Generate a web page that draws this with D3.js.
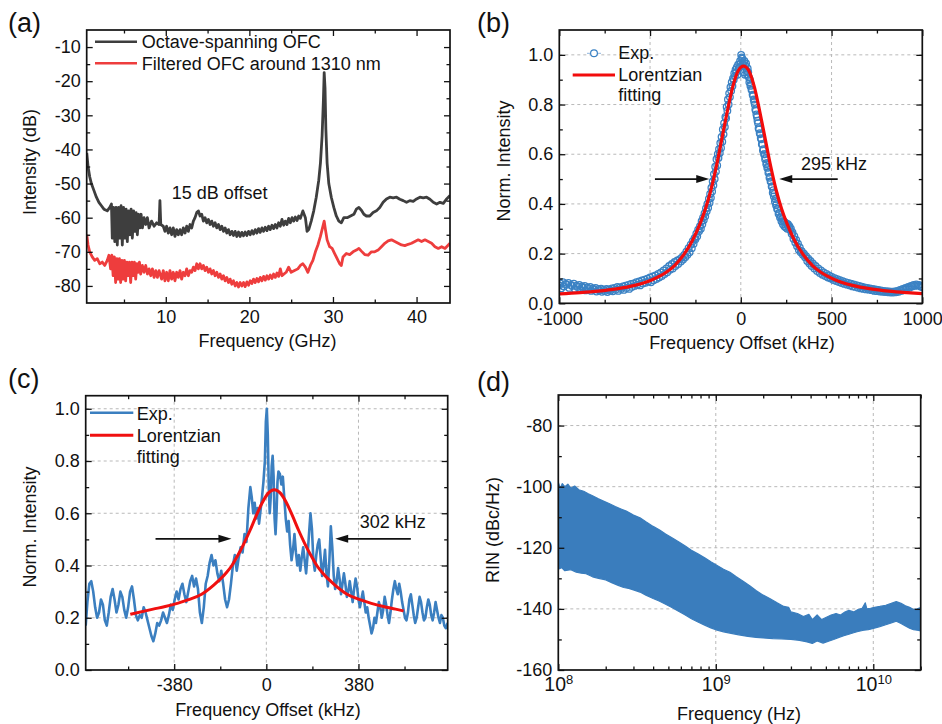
<!DOCTYPE html>
<html><head><meta charset="utf-8">
<script src="https://cdn.jsdelivr.net/npm/d3@7"></script>
<style>
body{margin:0;background:#fff;}
</style></head><body>
<script>
// ---------------- DATA ----------------
// (a) RF spectra [GHz, dB]
const aOctave = [[0.55,-41],[0.7,-45],[0.9,-48],[1.1,-50],[1.4,-52],[1.7,-54],[2.0,-55.5],[2.3,-56.5],[2.6,-57.5],[3.0,-58],[3.3,-57],
[3.5,-56],[3.6,-66],[3.75,-57],[3.9,-67],[4.05,-57],[4.2,-68],[4.35,-57],[4.5,-66],[4.65,-56.5],[4.8,-68],[4.95,-57],[5.1,-66],[5.25,-57.5],[5.4,-67],[5.55,-58],[5.7,-65],[5.85,-57.5],[6.0,-66],[6.15,-58],[6.3,-64],[6.45,-58.5],[6.6,-65],[6.75,-59],[6.9,-63],[7.05,-59],[7.2,-63],[7.4,-60],[7.6,-62],[7.8,-60],[8.0,-63],[8.3,-61],[8.6,-62.5],[8.9,-61.5],[9.2,-62],[9.3,-55],[9.4,-62],
[9.7,-62.5],[9.9,-64],[10.1,-62.5],[10.3,-64.5],[10.5,-63],[10.7,-65],[10.9,-63],[11.1,-65.5],[11.3,-63.5],[11.5,-65],[11.7,-63.5],[11.9,-65],[12.1,-63],[12.3,-64.5],[12.5,-62.5],[12.7,-64],[12.9,-62],[13.1,-63],[13.3,-61],[13.5,-60],[13.7,-58.5],[13.9,-58],[14.1,-59.5],[14.3,-59],[14.5,-61],[14.7,-60],[14.9,-61.5],[15.1,-60.5],[15.3,-62],[15.5,-61],[15.7,-62.5],[15.9,-61.5],[16.1,-63],[16.3,-62],[16.5,-63.5],[16.7,-62.5],[16.9,-64],[17.1,-63],[17.3,-64.5],[17.5,-63.5],[17.7,-65],[17.9,-64],[18.1,-65.2],[18.3,-64],[18.5,-65.5],[18.7,-64.2],[18.9,-65.5],[19.1,-64.3],[19.3,-65.3],[19.5,-64.2],[19.7,-65.2],[19.9,-64],[20.1,-65],[20.3,-63.8],[20.5,-64.8],[20.7,-63.5],[20.9,-64.5],[21.1,-63.2],[21.3,-64.3],[21.5,-63],[21.7,-64],[21.9,-62.8],[22.1,-63.8],[22.3,-62.5],[22.5,-63.5],[22.7,-62.2],[22.9,-63.2],[23.1,-62],[23.3,-63],[23.5,-61.5],[23.7,-62.5],[23.9,-60.5],[24.1,-62.2],[24.3,-61],[24.5,-62],[24.7,-60.2],[24.9,-61.5],[25.1,-60],[25.3,-61],[25.5,-59.8],[25.7,-60.8],[25.9,-59.5],[26.1,-60.2],[26.4,-58],
[26.7,-60],[26.9,-64],[27.1,-63.5],[27.4,-61],[27.7,-58],[28.0,-54],[28.3,-49],[28.5,-44],[28.7,-36],[28.85,-26],[28.95,-17.5],[29.05,-22],[29.15,-34],[29.3,-44],[29.5,-50],[29.8,-54],[30.1,-57],[30.4,-59.5],[30.7,-61],[31.0,-61.5],[31.3,-60],[31.7,-60],[32.1,-59.5],[32.5,-59],[32.8,-57.5],[33.1,-57],[33.4,-57.8],[33.7,-59],[34.0,-59.5],[34.4,-59.5],[34.8,-58.5],[35.2,-58],[35.6,-57],[36,-55.5],[36.4,-54.5],[36.8,-54],[37.2,-54.2],[37.6,-54],[38,-54.6],[38.4,-55],[38.8,-55.5],[39.2,-55],[39.6,-55.2],[40,-54.5],[40.4,-54],[40.8,-54.2],[41.2,-54],[41.6,-54.6],[42,-55.5],[42.4,-56],[42.8,-55.5],[43.2,-55.8],[43.6,-54.5],[44,-53.5]];
const aFiltered = [[0.55,-65],[0.7,-68],[0.9,-70],[1.2,-71.5],[1.5,-72.5],[1.8,-72],[2.1,-73.5],[2.4,-73],[2.7,-74],[3.0,-72.5],[3.2,-71],[3.4,-75],[3.55,-71],[3.7,-77],[3.85,-71.5],[4.0,-79],[4.15,-72],[4.3,-78],[4.45,-72],[4.6,-79],[4.75,-72.5],[4.9,-78],[5.05,-72.5],[5.2,-78.5],[5.35,-73],[5.5,-77],[5.65,-73],[5.8,-79],[5.95,-73],[6.1,-77],[6.25,-73],[6.4,-78],[6.55,-73.5],[6.7,-76],[6.85,-73],[7.0,-76.5],[7.2,-74],[7.4,-76],[7.6,-74],[7.8,-76.5],[8.0,-75],[8.2,-77],[8.4,-75],[8.6,-77.5],[8.8,-75.5],[9.0,-77.5],[9.2,-75.5],
[9.5,-78],[9.7,-75.5],[9.9,-78.5],[10.1,-76],[10.3,-78.5],[10.5,-75.5],[10.7,-78],[10.9,-76],[11.1,-78.5],[11.3,-76],[11.5,-77.5],[11.7,-75.5],[11.9,-78],[12.1,-76],[12.3,-77],[12.5,-75],[12.7,-77],[12.9,-75.5],[13.1,-76],[13.3,-74.5],[13.5,-75.5],[13.7,-73.5],[13.9,-75],[14.1,-73.5],[14.3,-75],[14.5,-74],[14.7,-75.5],[14.9,-74.5],[15.1,-76],[15.3,-75],[15.5,-76.5],[15.7,-75.5],[15.9,-77],[16.1,-76],[16.3,-77.5],[16.5,-76.5],[16.7,-78],[16.9,-77],[17.1,-78.5],[17.3,-77.5],[17.5,-79],[17.7,-78],[17.9,-79.5],[18.1,-78.5],[18.3,-80],[18.5,-79],[18.7,-80.3],[18.9,-79],[19.1,-80],[19.3,-79],[19.5,-80.2],[19.7,-78.8],[19.9,-79.8],[20.1,-78.5],[20.3,-79.3],[20.5,-78],[20.7,-79],[20.9,-77.8],[21.1,-78.8],[21.3,-77.5],[21.5,-78.5],[21.7,-77.2],[21.9,-78.3],[22.1,-77],[22.3,-78],[22.5,-76.8],[22.7,-77.8],[22.9,-76.5],[23.1,-77.5],[23.3,-76.2],[23.5,-77.2],[23.7,-75],[23.9,-77],
[24.4,-76],[24.7,-74.5],[25,-76],[25.4,-75.5],[25.8,-75],[26.1,-74],[26.4,-73.5],[26.7,-74.5],[27,-76],[27.3,-74],[27.6,-72.5],[27.9,-70],[28.2,-68],[28.5,-65.5],[28.75,-63],[28.95,-61],[29.1,-63.5],[29.3,-66.5],[29.6,-68.5],[29.9,-69],[30.2,-70.5],[30.5,-72],[30.8,-73.5],[31.0,-74],[31.2,-71.5],[31.6,-70.5],[32,-70.8],[32.4,-70],[32.8,-69.5],[33.1,-69],[33.4,-69.8],[33.8,-70.8],[34.2,-71],[34.6,-70],[35,-70],[35.4,-69.5],[35.8,-68.5],[36.2,-67.5],[36.6,-66.8],[37,-66.5],[37.4,-67],[37.8,-67.5],[38.2,-68],[38.6,-68.2],[39,-67.8],[39.4,-67.5],[39.8,-67],[40.2,-66.5],[40.6,-67],[41,-66.5],[41.4,-67],[41.8,-67.5],[42.2,-68.5],[42.6,-69],[43,-68.5],[43.4,-69],[43.8,-68],[44,-67.5]];
const aXTicks = [10,20,30,40], aXMinor = [5,15,25,35];
const aYTicks = [-80,-70,-60,-50,-40,-30,-20,-10], aYMinor = [-75,-65,-55,-45,-35,-25,-15];
const aLegend = ["Octave-spanning OFC","Filtered OFC around 1310 nm"];

// (b) beat note [kHz, norm] - two passes of measured points
const bExp = [[-1000,0.072],[-990,0.060],[-975,0.068],[-960,0.075],[-945,0.062],[-930,0.070],[-915,0.058],[-900,0.066],[-885,0.055],[-870,0.063],[-855,0.052],[-840,0.058],[-825,0.050],[-810,0.055],[-795,0.047],[-780,0.052],[-765,0.046],[-750,0.050],[-735,0.045],[-720,0.051],[-705,0.048],[-690,0.055],[-675,0.050],[-660,0.058],[-645,0.054],[-630,0.062],[-615,0.058],[-600,0.066],[-585,0.070],[-570,0.075],[-555,0.072],[-540,0.080],[-525,0.083],[-510,0.088],[-495,0.085],[-480,0.093],[-465,0.098],[-450,0.104],[-435,0.110],[-420,0.118],[-405,0.125],[-390,0.135],[-375,0.140],[-360,0.150],[-345,0.158],[-330,0.168],[-318,0.176],[-306,0.185],[-294,0.195],[-282,0.205],[-270,0.222],[-260,0.240],[-250,0.258],[-240,0.270],[-230,0.290],[-220,0.300],[-212,0.318],[-204,0.335],[-196,0.350],[-188,0.370],[-180,0.385],[-172,0.405],[-165,0.425],[-158,0.450],[-151,0.475],[-144,0.500],[-137,0.530],[-130,0.555],[-123,0.585],[-116,0.605],[-109,0.625],[-102,0.650],[-95,0.680],[-88,0.710],[-81,0.745],[-74,0.775],[-67,0.800],[-60,0.830],[-53,0.855],[-46,0.875],[-39,0.900],[-32,0.915],[-25,0.930],[-18,0.920],[-11,0.945],[-4,0.975],[2,1.0],[8,0.985],[14,0.960],[20,0.975],[26,0.955],[32,0.935],[38,0.945],[44,0.910],[50,0.900],[56,0.880],[62,0.860],[68,0.835],[74,0.810],[80,0.780],[86,0.760],[92,0.735],[98,0.705],[104,0.685],[110,0.665],[116,0.640],[122,0.615],[128,0.600],[134,0.580],[140,0.560],[146,0.545],[152,0.525],[158,0.505],[164,0.490],[170,0.470],[176,0.445],[182,0.430],[188,0.410],[194,0.395],[200,0.380],[208,0.360],[216,0.345],[224,0.330],[232,0.318],[240,0.310],[248,0.305],[256,0.300],[264,0.305],[272,0.295],[280,0.280],[290,0.260],[300,0.245],[310,0.230],[320,0.215],[330,0.205],[342,0.195],[354,0.185],[366,0.170],[378,0.160],[390,0.150],[405,0.140],[420,0.130],[435,0.122],[450,0.115],[465,0.110],[480,0.104],[495,0.100],[510,0.094],[525,0.090],[540,0.086],[555,0.082],[570,0.078],[585,0.075],[600,0.072],[615,0.068],[630,0.066],[645,0.063],[660,0.060],[675,0.058],[690,0.056],[705,0.055],[720,0.053],[735,0.050],[750,0.049],[765,0.047],[780,0.046],[795,0.045],[810,0.044],[825,0.043],[840,0.043],[855,0.044],[870,0.046],[885,0.050],[900,0.055],[915,0.060],[930,0.063],[945,0.068],[960,0.070],[975,0.072],[990,0.068],[1000,0.065]];
const bExp2 = [[-995,0.080],[-980,0.085],[-965,0.078],[-950,0.082],[-935,0.074],[-920,0.079],[-905,0.071],[-890,0.074],[-875,0.068],[-860,0.070],[-845,0.064],[-830,0.066],[-815,0.060],[-800,0.062],[-785,0.057],[-770,0.059],[-755,0.055],[-740,0.058],[-725,0.056],[-710,0.060],[-695,0.062],[-680,0.066],[-665,0.064],[-650,0.068],[-635,0.071],[-620,0.074],[-605,0.078],[-590,0.080],[-575,0.085],[-560,0.088],[-545,0.092],[-530,0.095],[-515,0.099],[-500,0.104],[-485,0.108],[-470,0.112],[-455,0.118],[-440,0.124],[-425,0.132],[-410,0.140],[-395,0.150],[-380,0.158],[-365,0.166],[-350,0.172],[-336,0.178],[-324,0.185],[-312,0.195],[-300,0.208],[-288,0.222],[-276,0.236],[-265,0.25],[-255,0.262],[-245,0.28],[-235,0.296],[-225,0.31],[-216,0.33],[-208,0.345],[-200,0.362],[-192,0.382],[-184,0.40],[-176,0.42],[-169,0.44],[-162,0.465],[-155,0.49],[-148,0.52],[-141,0.55],[-134,0.58],[-127,0.60],[-120,0.62],[-113,0.645],[-106,0.67],[-99,0.70],[-92,0.725],[-85,0.75],[-78,0.79],[-71,0.82],[-64,0.845],[-57,0.87],[-50,0.89],[-43,0.905],[-36,0.925],[-29,0.94],[-22,0.95],[-15,0.96],[-8,0.95],[-1,0.965],[5,0.99],[11,0.97],[17,0.93],[23,0.92],[29,0.965],[35,0.92],[41,0.93],[47,0.89],[53,0.875],[59,0.86],[65,0.84],[71,0.82],[77,0.80],[83,0.775],[89,0.75],[95,0.725],[101,0.70],[107,0.68],[113,0.66],[119,0.64],[125,0.62],[131,0.60],[137,0.585],[143,0.565],[149,0.55],[155,0.53],[161,0.51],[167,0.49],[173,0.47],[179,0.455],[185,0.44],[191,0.42],[197,0.40],[204,0.38],[212,0.365],[220,0.35],[228,0.34],[236,0.33],[244,0.325],[252,0.32],[260,0.318],[268,0.31],[276,0.30],[285,0.285],[295,0.27],[305,0.255],[315,0.24],[325,0.225],[336,0.21],[348,0.20],[360,0.19],[372,0.18],[384,0.17],[397,0.16],[412,0.15],[427,0.14],[442,0.132],[457,0.124],[472,0.118],[487,0.112],[502,0.106],[517,0.101],[532,0.097],[547,0.093],[562,0.089],[577,0.085],[592,0.082],[607,0.079],[622,0.076],[637,0.073],[652,0.070],[667,0.067],[682,0.064],[697,0.062],[712,0.060],[727,0.058],[742,0.056],[757,0.054],[772,0.052],[787,0.050],[802,0.049],[817,0.048],[832,0.047],[847,0.048],[862,0.050],[877,0.054],[892,0.058],[907,0.062],[922,0.066],[937,0.070],[952,0.074],[967,0.076],[982,0.074],[997,0.070]];
const bFit = [[-1000,0.038],[-885,0.043],[-785,0.049],[-685,0.058],[-585,0.072],[-485,0.096],[-415,0.123],[-365,0.152],[-315,0.195],[-265,0.255],[-225,0.32],[-195,0.38],[-165,0.455],[-135,0.55],[-105,0.66],[-75,0.77],[-45,0.87],[-15,0.935],[15,0.955],[45,0.935],[75,0.87],[105,0.77],[135,0.66],[165,0.55],[195,0.455],[225,0.38],[255,0.32],[295,0.255],[345,0.195],[395,0.152],[445,0.123],[515,0.096],[615,0.072],[715,0.058],[815,0.049],[915,0.043],[1000,0.039]];
const bXTicks = [-1000,-500,0,500,1000], bXMinor = [-750,-250,250,750];
const bYTicks = [0,0.2,0.4,0.6,0.8,1.0], bYMinor = [0.1,0.3,0.5,0.7,0.9];
const bArrows = [[-473,-174,0.5],[534,212,0.5]];
const bWidth = ["295 kHz", 332, 0.538];

// (c) beat note [kHz, norm]
const cExp = [[-745,0.17],[-738,0.26],[-730,0.33],[-722,0.34],[-714,0.30],[-706,0.24],[-698,0.20],[-690,0.22],[-682,0.27],[-674,0.25],[-666,0.19],[-658,0.17],[-650,0.22],[-642,0.28],[-634,0.31],[-626,0.27],[-618,0.22],[-610,0.25],[-602,0.30],[-594,0.28],[-586,0.23],[-578,0.20],[-570,0.24],[-562,0.30],[-554,0.32],[-546,0.27],[-538,0.21],[-530,0.19],[-522,0.21],[-514,0.20],[-506,0.24],[-498,0.22],[-490,0.19],[-482,0.16],[-474,0.13],[-466,0.11],[-458,0.14],[-450,0.18],[-442,0.17],[-434,0.19],[-426,0.22],[-418,0.20],[-410,0.18],[-402,0.21],[-394,0.25],[-386,0.23],[-378,0.27],[-370,0.30],[-362,0.27],[-354,0.31],[-346,0.33],[-338,0.29],[-330,0.26],[-322,0.30],[-314,0.34],[-306,0.36],[-298,0.32],[-290,0.35],[-282,0.31],[-274,0.22],[-266,0.18],[-258,0.24],[-250,0.33],[-242,0.36],[-234,0.41],[-226,0.44],[-218,0.40],[-210,0.42],[-202,0.37],[-194,0.34],[-186,0.38],[-178,0.33],[-170,0.27],[-162,0.24],[-154,0.27],[-146,0.33],[-138,0.40],[-130,0.44],[-122,0.38],[-114,0.43],[-106,0.47],[-98,0.45],[-90,0.52],[-82,0.49],[-74,0.62],[-66,0.70],[-60,0.66],[-54,0.60],[-48,0.64],[-42,0.58],[-36,0.62],[-30,0.56],[-24,0.61],[-18,0.66],[-12,0.72],[-6,0.80],[-2,0.95],[2,1.00],[6,0.90],[10,0.70],[14,0.60],[18,0.66],[22,0.78],[26,0.82],[30,0.74],[34,0.58],[38,0.52],[42,0.60],[46,0.72],[50,0.76],[56,0.75],[62,0.71],[68,0.74],[74,0.66],[80,0.58],[86,0.53],[92,0.57],[98,0.48],[104,0.42],[110,0.46],[116,0.52],[122,0.45],[128,0.40],[134,0.44],[140,0.38],[146,0.43],[152,0.47],[158,0.42],[164,0.37],[170,0.44],[176,0.52],[182,0.60],[188,0.54],[194,0.42],[200,0.38],[206,0.44],[212,0.48],[218,0.50],[224,0.43],[230,0.36],[236,0.40],[242,0.46],[248,0.37],[254,0.32],[260,0.42],[266,0.55],[272,0.47],[278,0.36],[284,0.31],[290,0.34],[296,0.39],[302,0.35],[308,0.29],[314,0.33],[320,0.37],[326,0.33],[332,0.28],[338,0.30],[344,0.34],[350,0.30],[356,0.26],[362,0.31],[368,0.35],[374,0.32],[380,0.27],[386,0.24],[392,0.27],[398,0.30],[404,0.26],[410,0.22],[416,0.24],[422,0.20],[428,0.17],[434,0.14],[440,0.16],[446,0.20],[452,0.18],[458,0.22],[464,0.26],[470,0.24],[476,0.20],[482,0.23],[488,0.28],[494,0.25],[500,0.21],[506,0.18],[512,0.22],[518,0.27],[524,0.31],[530,0.34],[536,0.31],[542,0.29],[548,0.33],[554,0.30],[560,0.26],[566,0.23],[572,0.20],[578,0.19],[584,0.22],[590,0.27],[596,0.29],[602,0.25],[608,0.21],[614,0.18],[620,0.20],[626,0.24],[632,0.28],[638,0.26],[644,0.22],[650,0.19],[656,0.20],[662,0.24],[668,0.27],[674,0.25],[680,0.21],[686,0.19],[692,0.22],[698,0.26],[704,0.23],[710,0.20],[716,0.18],[722,0.21],[728,0.20],[734,0.17],[740,0.16],[748,0.18]];
const cFit = [[-561,0.213],[-467,0.233],[-417,0.243],[-367,0.255],[-317,0.27],[-267,0.29],[-217,0.325],[-167,0.37],[-142,0.40],[-117,0.44],[-92,0.485],[-67,0.535],[-42,0.59],[-17,0.64],[8,0.677],[33,0.69],[58,0.677],[83,0.64],[108,0.59],[133,0.535],[158,0.485],[183,0.44],[208,0.40],[233,0.37],[283,0.325],[333,0.29],[383,0.27],[433,0.255],[483,0.243],[533,0.233],[566,0.226]];
const cXTicks = [-380,0,380], cXMinor = [-570,-190,190,570];
const cYTicks = [0,0.2,0.4,0.6,0.8,1.0], cYMinor = [0.1,0.3,0.5,0.7,0.9];
const cArrows = [[-457,-144,0.502],[596,284,0.502]];
const cWidth = ["302 kHz", 385, 0.543];

// (d) RIN envelope [Hz, dBc/Hz]
const dUpper = [[1.0e8,-98.5],[1.03e8,-100.5],[1.06e8,-99],[1.1e8,-100],[1.15e8,-99.2],[1.2e8,-100.5],[1.27e8,-99.8],[1.35e8,-101],[1.45e8,-101.5],[1.55e8,-102.3],[1.65e8,-103],[1.8e8,-104],[1.95e8,-104.8],[2.1e8,-105.5],[2.3e8,-106.5],[2.5e8,-107.3],[2.7e8,-108],[3.0e8,-109.3],[3.3e8,-110.2],[3.6e8,-111.5],[4.0e8,-113],[4.4e8,-114.2],[4.8e8,-115.5],[5.3e8,-116.8],[5.8e8,-118],[6.4e8,-119.4],[7.0e8,-120.8],[7.7e8,-122],[8.5e8,-123.3],[9.3e8,-124.6],[1.02e9,-125.8],[1.12e9,-127],[1.23e9,-128],[1.35e9,-129.5],[1.5e9,-131],[1.65e9,-132.5],[1.8e9,-134],[2.0e9,-135.5],[2.2e9,-136.6],[2.45e9,-138],[2.7e9,-139.2],[2.9e9,-139.5],[3.0e9,-141],[3.3e9,-141.5],[3.6e9,-142.5],[3.9e9,-141.8],[4.1e9,-143.5],[4.4e9,-142],[4.7e9,-143.5],[5.0e9,-142.8],[5.4e9,-142],[5.8e9,-141.5],[6.2e9,-142],[6.6e9,-141],[7.0e9,-140.5],[7.5e9,-141],[8.0e9,-140.2],[8.5e9,-139.8],[8.9e9,-138],[9.1e9,-140],[9.6e9,-139.8],[1.02e10,-139.5],[1.1e10,-139.2],[1.2e10,-138.8],[1.3e10,-138.2],[1.4e10,-137.6],[1.5e10,-138.2],[1.6e10,-139],[1.7e10,-139.5],[1.8e10,-140.2],[1.9e10,-140],[2.0e10,-139.6]];
const dLower = [[1.0e8,-127],[1.05e8,-126.5],[1.1e8,-127.5],[1.2e8,-127.2],[1.3e8,-128],[1.4e8,-128.3],[1.5e8,-128.5],[1.65e8,-129.5],[1.8e8,-130],[2.0e8,-130.5],[2.2e8,-131.5],[2.4e8,-132.3],[2.6e8,-133],[2.8e8,-133.3],[3.0e8,-133.8],[3.3e8,-134.5],[3.6e8,-135.5],[4.0e8,-136.6],[4.4e8,-137.5],[4.8e8,-138.5],[5.3e8,-139.6],[5.8e8,-140.8],[6.4e8,-142],[7.0e8,-143.2],[7.7e8,-144.3],[8.5e8,-145.3],[9.3e8,-146.2],[1.02e9,-147],[1.12e9,-147.5],[1.25e9,-148],[1.4e9,-148.5],[1.6e9,-149],[1.8e9,-149.3],[2.0e9,-149.5],[2.3e9,-149.7],[2.6e9,-149.8],[3.0e9,-150],[3.4e9,-150.3],[3.8e9,-150.8],[4.1e9,-151.3],[4.4e9,-150.5],[4.8e9,-151.2],[5.2e9,-150.6],[5.6e9,-150],[6.0e9,-149.4],[6.5e9,-148.8],[7.0e9,-148.3],[7.5e9,-147.8],[8.0e9,-147.4],[8.7e9,-147],[9.3e9,-146.8],[1.0e10,-146.4],[1.1e10,-145.8],[1.2e10,-145.2],[1.3e10,-144.6],[1.4e10,-144],[1.5e10,-144.8],[1.6e10,-145.6],[1.7e10,-146.3],[1.8e10,-146.8],[1.9e10,-147],[2.0e10,-147.2]];
const dXTicks = [1e8,1e9,1e10], dXMinor = [2e8,3e8,4e8,5e8,6e8,7e8,8e8,9e8,2e9,3e9,4e9,5e9,6e9,7e9,8e9,9e9,2e10];
const dYTicks = [-160,-140,-120,-100,-80], dYMinor = [-150,-130,-110,-90];

// ---------------- DRAWING ----------------
const FONT = '"Liberation Sans", Arial, Helvetica, sans-serif';
const INK = "#111";
const intFmt = d => (d < 0 ? "-" : "") + Math.abs(d);
const decFmt = d => d.toFixed(1);
const svg = d3.select("body").append("svg").attr("width",942).attr("height",724)
  .style("font-family",FONT);
const defs = svg.append("defs");

function panel(p){
  const {id,box,x,y} = p;
  defs.append("clipPath").attr("id",id).append("rect")
    .attr("x",box.l).attr("y",box.t).attr("width",box.r-box.l).attr("height",box.b-box.t);
  const g = svg.append("g");
  const grid = g.append("g").attr("stroke","#b9b9b9").attr("stroke-width",1).attr("stroke-dasharray","3,3");
  (p.gridX||[]).forEach(v=>grid.append("line").attr("x1",x(v)).attr("x2",x(v)).attr("y1",box.t).attr("y2",box.b));
  (p.gridY||[]).forEach(v=>grid.append("line").attr("y1",y(v)).attr("y2",y(v)).attr("x1",box.l).attr("x2",box.r));
  const plot = g.append("g").attr("clip-path",`url(#${id})`);
  const top = g.append("g");
  const style = (s,fs)=>{ s.select(".domain").remove();
    s.attr("font-family",FONT).attr("font-size",fs||18).attr("color",INK);
    s.selectAll(".tick line").attr("stroke-width",1.3); };
  const ax = (gen, tx, ty) => top.append("g").attr("transform",`translate(${tx},${ty})`).call(gen);
  const xl = ax(d3.axisBottom(x).tickValues(p.xTicks).tickSize(-6).tickPadding(p.xPad||7).tickFormat(p.xFmt||intFmt),0,box.b).call(s=>style(s,p.xFont));
  ax(d3.axisBottom(x).tickValues(p.xMinor).tickSize(-3.5).tickFormat(""),0,box.b).call(s=>style(s));
  ax(d3.axisTop(x).tickValues(p.xTicks).tickSize(-6).tickFormat(""),0,box.t).call(s=>style(s));
  ax(d3.axisTop(x).tickValues(p.xMinor).tickSize(-3.5).tickFormat(""),0,box.t).call(s=>style(s));
  ax(d3.axisLeft(y).tickValues(p.yTicks).tickSize(-6).tickPadding(6).tickFormat(p.yFmt||intFmt),box.l,0).call(s=>style(s));
  ax(d3.axisLeft(y).tickValues(p.yMinor).tickSize(-3.5).tickFormat(""),box.l,0).call(s=>style(s));
  ax(d3.axisRight(y).tickValues(p.yTicks).tickSize(-6).tickFormat(""),box.r,0).call(s=>style(s));
  ax(d3.axisRight(y).tickValues(p.yMinor).tickSize(-3.5).tickFormat(""),box.r,0).call(s=>style(s));
  top.append("rect").attr("x",box.l).attr("y",box.t).attr("width",box.r-box.l).attr("height",box.b-box.t)
    .attr("fill","none").attr("stroke",INK).attr("stroke-width",1.7);
  top.append("text").attr("x",p.xTitle[1]).attr("y",p.xTitle[2]).attr("text-anchor","middle")
    .attr("font-size",18).attr("fill",INK).text(p.xTitle[0]);
  top.append("text").attr("transform",`translate(${p.yTitle[1]},${p.yTitle[2]}) rotate(-90)`).attr("text-anchor","middle")
    .attr("font-size",18).attr("fill",INK).text(p.yTitle[0]);
  top.append("text").attr("x",p.tag[1]).attr("y",p.tag[2]).attr("font-size",27).attr("fill",INK).text(p.tag[0]);
  return {g,plot,top,xl};
}

function legendLine(gp, x1, x2, yy, color, w){
  gp.append("line").attr("x1",x1).attr("x2",x2).attr("y1",yy).attr("y2",yy).attr("stroke",color).attr("stroke-width",w);
}
function legendText(gp, xx, yy, t){
  gp.append("text").attr("x",xx).attr("y",yy).attr("font-size",18).attr("fill",INK).text(t);
}
function arrows(gp, list, x, y){
  list.forEach(([a,b,v])=>{
    const xa=x(a), xb=x(b), yy=y(v), dir = Math.sign(xb-xa);
    gp.append("line").attr("x1",xa).attr("x2",xb-dir*10).attr("y1",yy).attr("y2",yy).attr("stroke",INK).attr("stroke-width",1.8);
    gp.append("path").attr("d",`M${xb},${yy}L${xb-dir*13},${yy-4}L${xb-dir*13},${yy+4}Z`).attr("fill",INK);
  });
}

// ---- (a)
{
  const box={l:86.7,t:30,r:450,b:303};
  const x=d3.scaleLinear().domain([0.54,44]).range([box.l,box.r]);
  const y=d3.scaleLinear().domain([-85,-5]).range([box.b,box.t]);
  const P=panel({id:"ca",box,x,y,xTicks:aXTicks,xMinor:aXMinor,yTicks:aYTicks,yMinor:aYMinor,
    xTitle:["Frequency (GHz)",267.5,346.7],yTitle:["Intensity (dB)",36,162],tag:["(a)",8,31.5]});
  const line=d3.line().x(d=>x(d[0])).y(d=>y(d[1]));
  P.plot.append("path").datum(aFiltered).attr("d",line).attr("fill","none").attr("stroke","#ee3d3d").attr("stroke-width",2.8).attr("stroke-linejoin","round");
  P.plot.append("path").datum(aOctave).attr("d",line).attr("fill","none").attr("stroke","#3e3e3e").attr("stroke-width",2.8).attr("stroke-linejoin","round");
  legendLine(P.top,95,137,41.7,"#3e3e3e",2.6); legendText(P.top,141.7,47.8,aLegend[0]);
  legendLine(P.top,95,137,63.3,"#ee3d3d",2.6); legendText(P.top,141.7,70,aLegend[1]);
  P.top.append("text").attr("x",x(10.72)).attr("y",y(-54.4)).attr("font-size",18).attr("fill",INK).text("15 dB offset");
}

// ---- (b)
{
  const box={l:559.3,t:30,r:922.3,b:303.3};
  const x=d3.scaleLinear().domain([-1000,1000]).range([box.l,box.r]);
  const y=d3.scaleLinear().domain([0,1.1]).range([box.b,box.t]);
  const P=panel({id:"cb",box,x,y,xTicks:bXTicks,xMinor:bXMinor,yTicks:bYTicks,yMinor:bYMinor,xPad:8.5,
    yFmt:decFmt,gridX:[-500,0,500],gridY:[0.2,0.4,0.6,0.8,1.0],
    xTitle:["Frequency Offset (kHz)",742,348.5],yTitle:["Norm. Intensity",509.5,161],tag:["(b)",477,31.5]});
  P.plot.selectAll("circle").data(bExp.concat(bExp2)).join("circle").attr("cx",d=>x(d[0])).attr("cy",d=>y(d[1])).attr("r",3.3)
    .attr("fill","none").attr("stroke","#3b82c4").attr("stroke-width",1.3);
  const line=d3.line().x(d=>x(d[0])).y(d=>y(d[1])).curve(d3.curveMonotoneX);
  P.plot.append("path").datum(bFit).attr("d",line).attr("fill","none").attr("stroke","#f20c0c").attr("stroke-width",3.2);
  arrows(P.top,bArrows,x,y);
  P.top.append("text").attr("x",x(bWidth[1])).attr("y",y(bWidth[2])).attr("font-size",18).attr("fill",INK).text(bWidth[0]);
  legendLine(P.top,587,601,53.3,"#8fb6de",1);
  P.top.append("circle").attr("cx",594).attr("cy",53.3).attr("r",3.4).attr("fill","#fff").attr("stroke","#3b82c4").attr("stroke-width",1.2);
  legendText(P.top,618.3,58.8,"Exp.");
  legendLine(P.top,572.7,615,75,"#f20c0c",3.2);
  legendText(P.top,618.3,81,"Lorentzian");
  legendText(P.top,618.3,101,"fitting");
}

// ---- (c)
{
  const box={l:85.7,t:395.7,r:447.7,b:670};
  const x=d3.scaleLinear().domain([-745,748]).range([box.l,box.r]);
  const y=d3.scaleLinear().domain([0,1.05]).range([box.b,box.t]);
  const P=panel({id:"cc",box,x,y,xTicks:cXTicks,xMinor:cXMinor,yTicks:cYTicks,yMinor:cYMinor,xPad:8,
    yFmt:decFmt,gridX:[-380,0,380],gridY:[0.2,0.4,0.6,0.8,1.0],
    xTitle:["Frequency Offset (kHz)",268,716],yTitle:["Norm. Intensity",36,527],tag:["(c)",8,388]});
  const line=d3.line().x(d=>x(d[0])).y(d=>y(d[1]));
  P.plot.append("path").datum(cExp).attr("d",line).attr("fill","none").attr("stroke","#3b7fc0").attr("stroke-width",2.6).attr("stroke-linejoin","round");
  P.plot.append("path").datum(cFit).attr("d",line.curve(d3.curveMonotoneX)).attr("fill","none").attr("stroke","#f01010").attr("stroke-width",3);
  arrows(P.top,cArrows,x,y);
  P.top.append("text").attr("x",x(cWidth[1])).attr("y",y(cWidth[2])).attr("font-size",18).attr("fill",INK).text(cWidth[0]);
  legendLine(P.top,90,133.3,412.7,"#3b7fc0",2.6); legendText(P.top,136.7,420,"Exp.");
  legendLine(P.top,90,133.3,435.3,"#f01010",3); legendText(P.top,136.7,441.7,"Lorentzian");
  legendText(P.top,136.7,462.7,"fitting");
}

// ---- (d)
{
  const box={l:558.3,t:395,r:920.7,b:670};
  const x=d3.scaleLog().domain([1e8,2e10]).range([box.l,box.r]);
  const y=d3.scaleLinear().domain([-160,-70]).range([box.b,box.t]);
  const P=panel({id:"cd",box,x,y,xTicks:dXTicks,xMinor:dXMinor,yTicks:dYTicks,yMinor:dYMinor,
    xFmt:()=>"10",xFont:19.5,xPad:7.5,gridX:[1e9,1e10],gridY:[-140,-120,-100,-80],
    xTitle:["Frequency (Hz)",739,719.5],yTitle:["RIN (dBc/Hz)",499,530],tag:["(d)",477,391]});
  const band = dUpper.concat(dLower.slice().reverse());
  P.plot.append("path").datum(band).attr("d",d3.line().x(d=>x(d[0])).y(d=>y(d[1])).curve(d3.curveLinearClosed))
    .attr("fill","#3a7dbd").attr("stroke","#3a7dbd").attr("stroke-width",1.2).attr("stroke-linejoin","round");
  P.xl.selectAll(".tick text").each(function(d){
    d3.select(this).append("tspan").attr("dy","-0.55em").attr("font-size",13).text(Math.round(Math.log10(d)));
  });
}
</script>
</body></html>
